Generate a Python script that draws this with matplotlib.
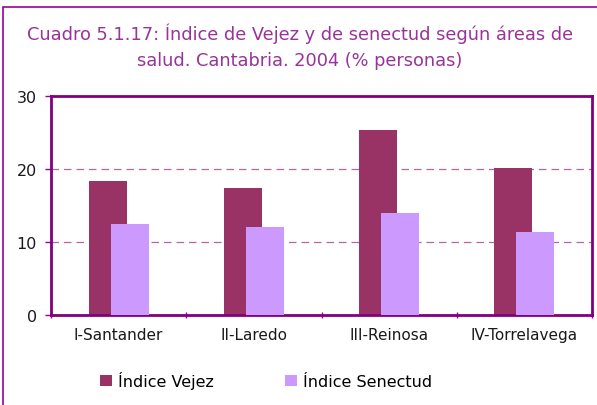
import matplotlib.pyplot as plt
import numpy as np
from matplotlib.patches import Rectangle

# Data
areas = ['I-Santander', 'II-Laredo', 'III-Reinosa', 'IV-Torrelavega']
vejez = [18.4, 17.4, 25.3, 20.1]
senectud = [12.5, 12.1, 14.0, 11.4]

W, H = 597, 406
fig = plt.figure(figsize=(W / 100, H / 100), dpi=100)

# outer frame (cut off at right/bottom like the original)
fig.patches.append(Rectangle((3 / W, -0.05), 1.05, (H - 8) / H + 0.05,
                             transform=fig.transFigure, fill=False,
                             edgecolor='#990099', linewidth=1.2))

ax = fig.add_axes([51 / W, (H - 316) / H, 541 / W, 219 / H])

x = np.arange(len(areas))
bw = 0.28
ax.bar(x - 0.081, vejez, bw, color='#993366', label='Índice Vejez', zorder=2)
ax.bar(x + 0.081, senectud, bw, color='#CC99FF', label='Índice Senectud', zorder=3)

ax.set_xlim(-0.5, len(areas) - 0.5)
ax.set_ylim(0, 30)
ax.set_yticks([0, 10, 20, 30])
ax.set_xticks(x)
ax.set_xticklabels(areas)
ax.set_xticks(np.arange(len(areas) + 1) - 0.5, minor=True)
ax.tick_params(axis='x', which='major', length=0, pad=9, labelsize=11, labelcolor='#1a1a1a')
ax.tick_params(axis='x', which='minor', length=5, color='#990099', width=1, direction='inout')
ax.tick_params(axis='y', length=4, color='#990099', width=1, labelsize=11.5,
               labelcolor='#1a1a1a', pad=6)

for y in [10, 20]:
    ax.axhline(y, color='#B8669E', linestyle=(0, (6, 4)), linewidth=0.9, zorder=1)

for s in ax.spines.values():
    s.set_color('#800080')
    s.set_linewidth(2)

fig.text(300 / W, (H - 46.5) / H,
         'Cuadro 5.1.17: Índice de Vejez y de senectud según áreas de\nsalud. Cantabria. 2004 (% personas)',
         ha='center', va='center', color='#993399', fontsize=12.8, linespacing=1.55)

fig.legend(loc='center', bbox_to_anchor=(266 / W, (H - 381) / H), ncol=2,
           frameon=False, fontsize=11.5, handlelength=0.75, handleheight=0.75,
           handletextpad=0.35, columnspacing=4.5)

fig.savefig('out.png', dpi=100)
